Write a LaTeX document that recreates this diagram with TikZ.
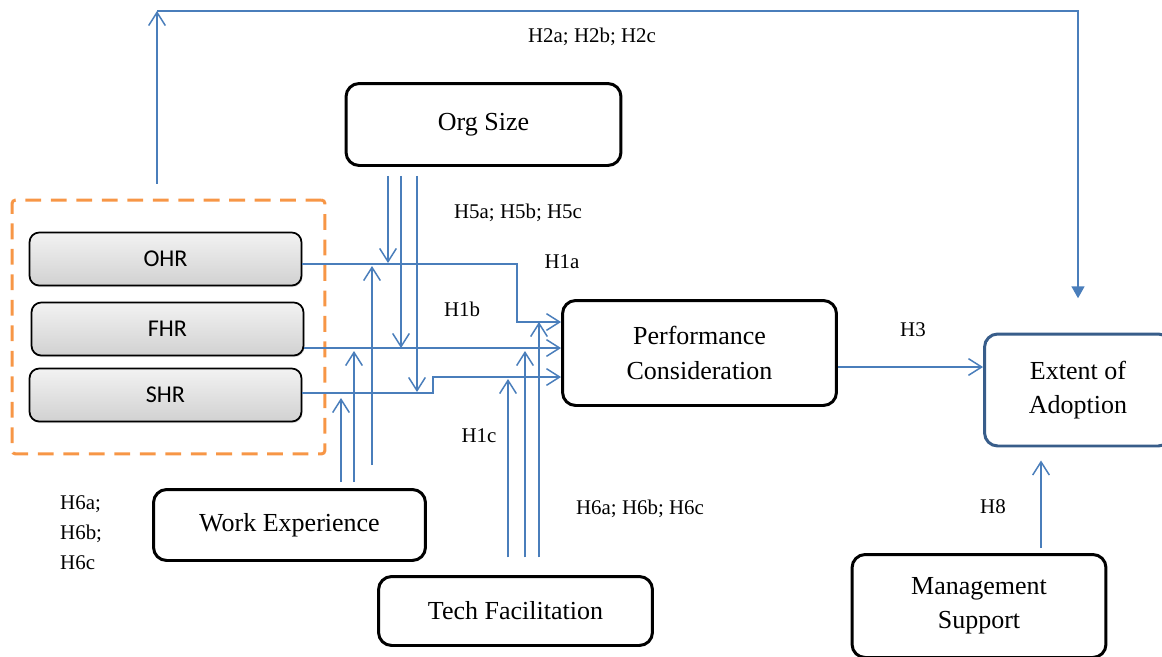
\documentclass[tikz,border=0pt]{standalone}
\usepackage{fontspec}
\setmainfont{Liberation Serif}
\newfontfamily\hrfont{Carlito}
\usepackage{tikz}
\usetikzlibrary{arrows.meta, positioning, shadows}
\definecolor{lnkblue}{RGB}{74, 126, 187}
\definecolor{extblue}{RGB}{56, 93, 138}
\definecolor{grporange}{RGB}{247, 150, 70}
\newcommand{\bxfont}{\fontsize{14.8}{19.5}\selectfont}
\newcommand{\lbfont}{\fontsize{11.9}{17}\selectfont}
\newcommand{\hrsize}{\hrfont\fontsize{13.7}{16}\selectfont}

\begin{document}
\begin{tikzpicture}[x=0.02cm, y=-0.02cm,
          box/.style={rectangle,rounded corners=7.5pt,draw=black,line width=1.7pt,
                      fill=white,align=center,font=\bxfont},
          hrbox/.style={rectangle,rounded corners=5.5pt,draw=black,line width=1pt,
                        top color=gray!10,bottom color=gray!36,font=\hrsize,
                        minimum width=5.44cm,minimum height=1.06cm,
                        drop shadow={shadow xshift=0.6pt,shadow yshift=-0.9pt,opacity=0.25}},
          grpbox/.style={rectangle,rounded corners=2pt,draw=grporange,line width=1.7pt,
                         dash pattern=on 9pt off 5.5pt},
          link/.style={draw=lnkblue,line width=0.85pt,
                       -{Straight Barb[length=7.5pt,width=9.5pt]}},
          flink/.style={draw=lnkblue,line width=0.85pt,
                        -{Triangle[length=6.8pt,width=7.4pt]}},
          lab/.style={font=\lbfont}]
        \useasboundingbox (0,0) rectangle (1162,656);
        % boxes
        \node[grpbox,minimum width=6.26cm,minimum height=5.08cm](grp) at (168.5,327){};
        \node[hrbox](ohr) at (165.5,259){OHR};
        \node[hrbox](fhr) at (167.5,329){FHR};
        \node[hrbox](shr) at (165.5,395){SHR};
        \node[box,minimum width=5.5cm,minimum height=1.64cm](org) at (483.5,124.5){Org Size};
        \node[box,minimum width=5.48cm,minimum height=2.1cm](perf) at (699.5,353)
          {Performance\\Consideration};
        \node[box,draw=extblue,minimum width=3.74cm,minimum height=2.24cm](ext) at (1078,390)
          {Extent of\\Adoption};
        \node[box,minimum width=5.44cm,minimum height=1.42cm](work) at (289.5,525)
          {Work Experience};
        \node[box,minimum width=5.48cm,minimum height=1.38cm](tech) at (515.5,611)
          {Tech Facilitation};
        \node[box,minimum width=5.08cm,minimum height=2.06cm](mgmt) at (979,606)
          {Management\\Support};
        % rows and tips
        \coordinate(ra) at (0,264);
        \coordinate(rb) at (0,348);
        \coordinate(rc) at (0,393);
        \coordinate(bnda) at (517,322);
        \coordinate(bndc) at (433,377);
        \coordinate(osa) at (388,263);
        \coordinate(osb) at (401,348);
        \coordinate(osc) at (417,392);
        \coordinate(wea) at (372,266);
        \coordinate(web) at (354,351);
        \coordinate(wec) at (341,398);
        \coordinate(tfa) at (539,322);
        \coordinate(tfb) at (525,351);
        \coordinate(tfc) at (508,379);
        \coordinate(top) at (157,11);
        \coordinate(hth) at (0,367);
        \coordinate(hei) at (1041,0);
        % connectors
        \draw[link](ohr.east |- ra) -| (bnda) -- (perf.west |- bnda);
        \draw[link](fhr.east |- rb) -- (perf.west |- rb);
        \draw[link](shr.east |- rc) -| (bndc) -- (perf.west |- bndc);
        \draw[link,shorten <=5pt](org.south -| osa) -- (osa);
        \draw[link,shorten <=5pt](org.south -| osb) -- (osb);
        \draw[link,shorten <=5pt](org.south -| osc) -- (osc);
        \draw[link,shorten <=13pt](work.north -| wea) -- (wea);
        \draw[link,shorten <=3.4pt](work.north -| web) -- (web);
        \draw[link,shorten <=3.4pt](work.north -| wec) -- (wec);
        \draw[link,shorten <=10pt](tech.north -| tfa) -- (tfa);
        \draw[link,shorten <=10pt](tech.north -| tfb) -- (tfb);
        \draw[link,shorten <=10pt](tech.north -| tfc) -- (tfc);
        \draw[link,shorten <=8.5pt](grp.north -| top) -- (top);
        \draw[flink,shorten >=19.5pt](top) -| (ext.north);
        \draw[link](perf.east |- hth) -- (ext.west |- hth);
        \draw[link,shorten <=2.8pt,shorten >=7.4pt](mgmt.north -| hei) -- (ext.south -| hei);
        % labels
        \node[lab](h2) at (592,37){H2a; H2b; H2c};
        \node[lab](h5) at (518,213){H5a; H5b; H5c};
        \node[lab](h1a) at (562,262){H1a};
        \node[lab](h1b) at (462,309){H1b};
        \node[lab](h1c) at (479,436){H1c};
        \node[lab](h3) at (913,330){H3};
        \node[lab](h8) at (993,507){H8};
        \node[lab](h6r) at (640,509){H6a; H6b; H6c};
        \node[lab,align=left,anchor=west](h6l) at (54,533){H6a;\\H6b;\\H6c};
      \end{tikzpicture}
\end{document}
